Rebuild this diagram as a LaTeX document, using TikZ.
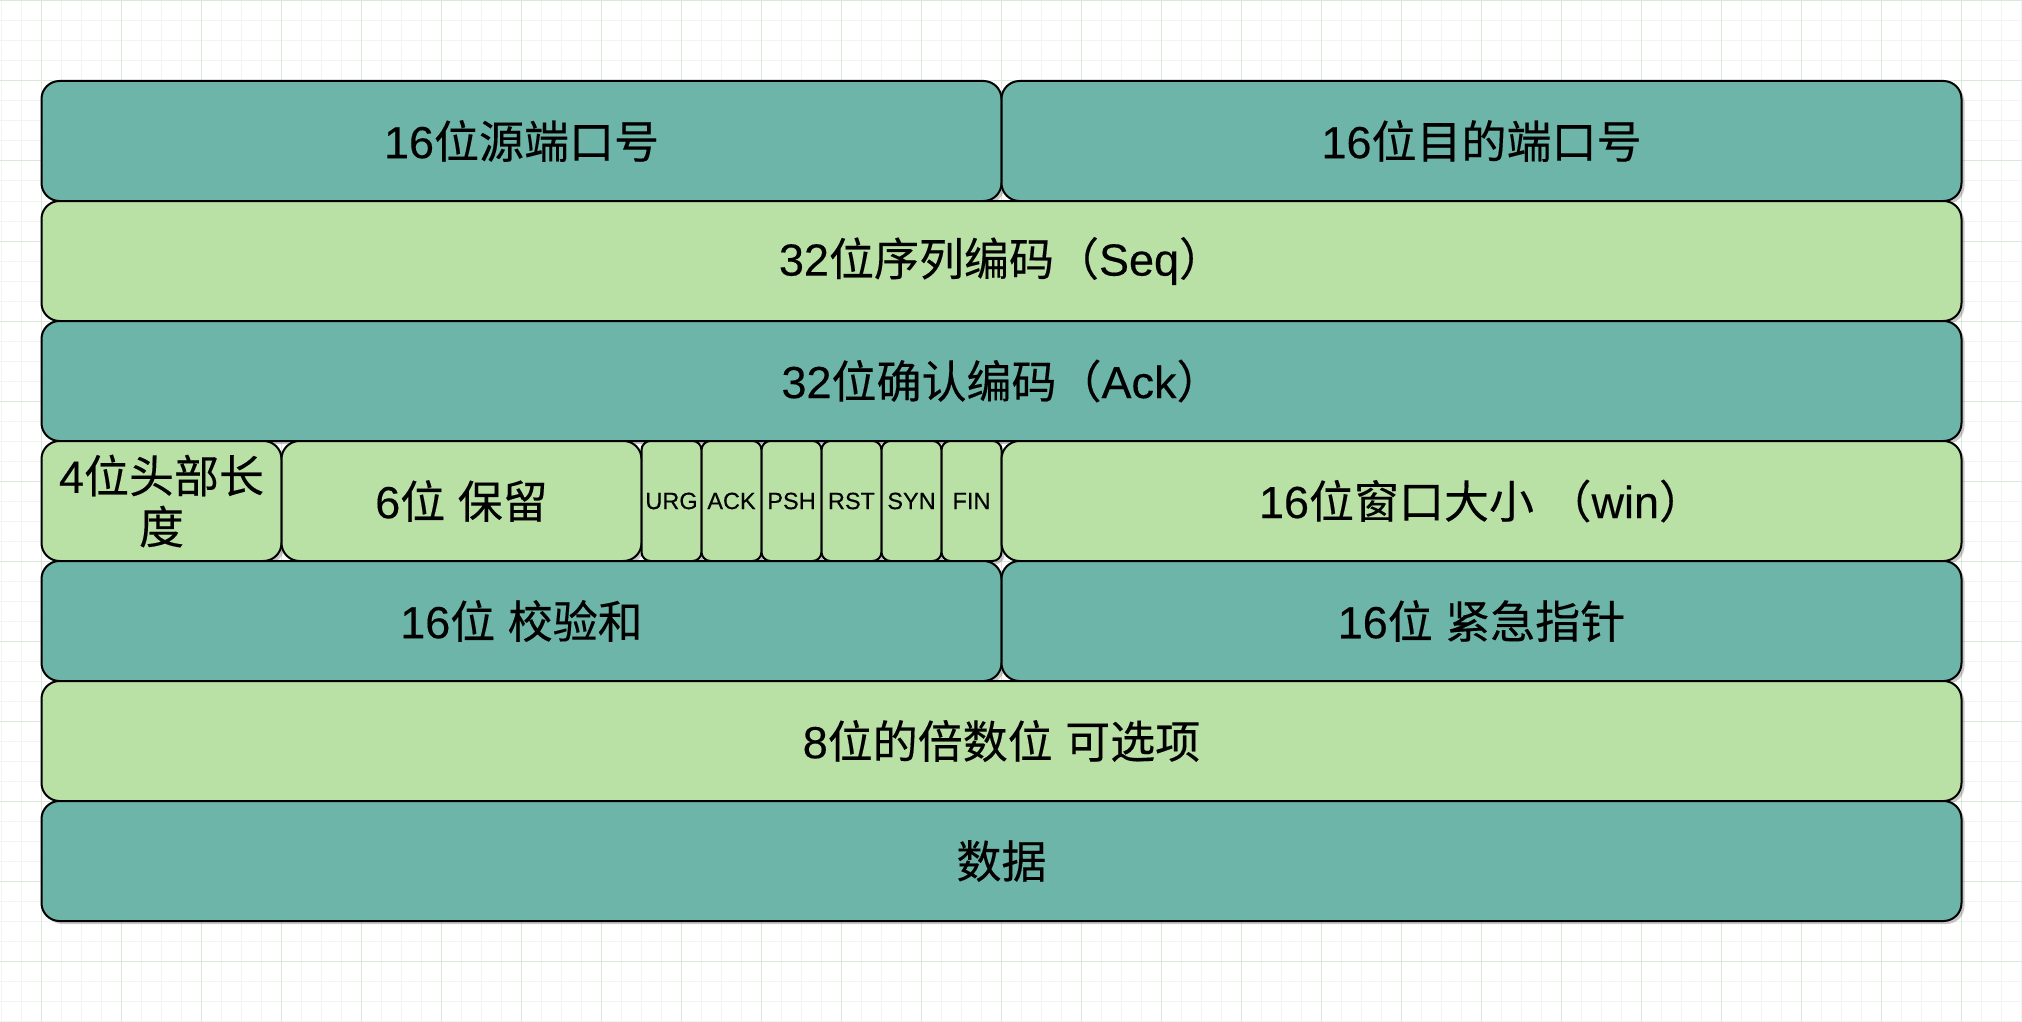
\documentclass[tikz,border=0pt]{standalone}
\usepackage{fontspec}
\setmainfont{Liberation Sans}[FakeBold=0.3]
\newfontfamily\cjkfont{Noto Sans CJK SC}[FakeBold=0.3]
\usetikzlibrary{shadows}
\definecolor{dteal}{HTML}{6DB5A9}
\definecolor{lgreen}{HTML}{B9E0A5}
\definecolor{gridmajor}{HTML}{DAE8DA}
\definecolor{gridminor}{HTML}{F1F5F1}
\newcommand\zh[1]{{\cjkfont #1}}
\tikzset{
  cell/.style={draw=black, line width=2pt, rounded corners=18pt, inner sep=0pt,
    align=center, font=\fontsize{45}{51}\selectfont,
    drop shadow={shadow xshift=3pt, shadow yshift=-3pt, opacity=0.3, fill=black!70}},
  dark/.style={cell, fill=dteal},
  light/.style={cell, fill=lgreen},
  flag/.style={light, rounded corners=9pt, font=\fontsize{23.5}{28}\selectfont,
    minimum width=60pt, minimum height=120pt},
  full/.style={minimum width=1920pt, minimum height=120pt},
  half/.style={minimum width=960pt, minimum height=120pt},
  gminor/.style={draw=gridminor, line width=1pt},
  gmajor/.style={draw=gridmajor, line width=1pt},
}
\begin{document}
\begin{tikzpicture}[x=1pt,y=-1pt]
\useasboundingbox (0,0) rectangle (2022,1022);
\fill[white] (0,0) rectangle (2022,1022);
% grid
\foreach \x in {1.5,21.5,...,2021.5} \draw[gminor] (\x,0) -- (\x,1022);
\foreach \y in {1,21,...,1021} \draw[gminor] (0,\y) -- (2022,\y);
\foreach \x in {41.5,121.5,...,2021.5} \draw[gmajor] (\x,0) -- (\x,1022);
\foreach \y in {1,81,...,1021} \draw[gmajor] (0,\y) -- (2022,\y);
% row 1
\node[dark, half] (src) at (521.5,141) {16\zh{位源端口号}};
\node[dark, half] (dst) at (1481.5,141) {16\zh{位目的端口号}};
% row 2
\node[light, full] (seq) at (1001.5,261) {32\zh{位序列编码（}Seq\zh{）}};
% row 3
\node[dark, full] (ack) at (1001.5,381) {32\zh{位确认编码（}Ack\zh{）}};
% row 4
\node[light, minimum width=240pt, minimum height=120pt] (hdr) at (161.5,501) {4\zh{位头部长}\\\zh{度}};
\node[light, minimum width=360pt, minimum height=120pt] (rsv) at (461.5,501) {6\zh{位} \zh{保留}};
\node[flag] (urg) at (671.5,501) {URG};
\node[flag] (fack) at (731.5,501) {ACK};
\node[flag] (psh) at (791.5,501) {PSH};
\node[flag] (rst) at (851.5,501) {RST};
\node[flag] (syn) at (911.5,501) {SYN};
\node[flag] (fin) at (971.5,501) {FIN};
\node[light, half] (win) at (1481.5,501) {16\zh{位窗口大小} \zh{（}win\zh{）}};
% row 5
\node[dark, half] (chk) at (521.5,621) {16\zh{位} \zh{校验和}};
\node[dark, half] (urgp) at (1481.5,621) {16\zh{位} \zh{紧急指针}};
% row 6
\node[light, full] (opt) at (1001.5,741) {8\zh{位的倍数位} \zh{可选项}};
% row 7
\node[dark, full] (data) at (1001.5,861) {\zh{数据}};
\end{tikzpicture}
\end{document}
